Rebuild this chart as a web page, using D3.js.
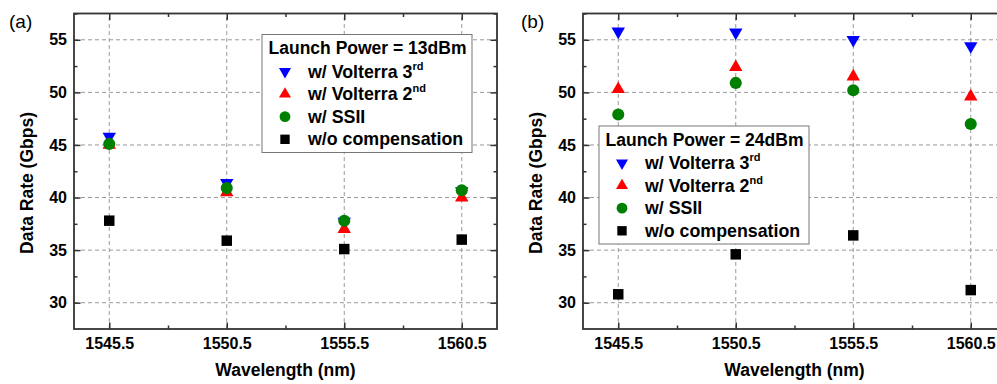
<!DOCTYPE html>
<html>
<head>
<meta charset="utf-8">
<style>
  body { margin: 0; background: #fff; }
  svg { display: block; font-family: "Liberation Sans", Arial, sans-serif; }
  .tick text { font-weight: bold; font-size: 16px; fill: #000; }
</style>
</head>
<body>
<svg width="997" height="384"></svg>

<script src="https://cdn.jsdelivr.net/npm/d3@7/dist/d3.min.js"></script>
<script>
// wavelengths (nm) on the x axis
const wavelengths = [1545.5, 1550.5, 1555.5, 1560.5];
const xMinor = [1548, 1553, 1558];
const yTicks = [30, 35, 40, 45, 50, 55];
const yMinor = [32.5, 37.5, 42.5, 47.5, 52.5, 57.5];

// panel (a): launch power 13 dBm
const a_volterra3 = [45.8, 41.4, 37.7, 40.6];
const a_volterra2 = [45.0, 40.5, 37.0, 40.0];
const a_ssii      = [45.1, 40.9, 37.8, 40.7];
const a_nocomp    = [37.8, 35.9, 35.1, 36.0];

// panel (b): launch power 24 dBm
const b_volterra3 = [55.8, 55.7, 55.0, 54.4];
const b_volterra2 = [50.3, 52.4, 51.5, 49.6];
const b_ssii      = [47.9, 50.9, 50.2, 47.0];
const b_nocomp    = [30.8, 34.6, 36.4, 31.2];

const seriesNames = ["w/ Volterra 3", "w/ Volterra 2", "w/ SSII", "w/o compensation"];
const seriesSup = ["rd", "nd", "", ""];

const svg = d3.select("svg");

// marker styles: down triangle, up triangle, circle, square
const markers = [
  { type: d3.symbolTriangle, size: 78, rot: 180, color: "#0000ff" },
  { type: d3.symbolTriangle, size: 78, rot: 0, color: "#ff0000" },
  { type: d3.symbolCircle, size: 115, rot: 0, color: "#008000" },
  { type: d3.symbolSquare, size: 110, rot: 0, color: "#000000" }
];

function drawPanel(opt) {
  const x = d3.scaleLinear().domain([1544, 1562]).range([opt.left, opt.left + 423]);
  const y = d3.scaleLinear().domain([27.5, 57.5]).range([329, 13.5]);
  const g = svg.append("g");

  // dashed grid at major ticks
  g.append("g").selectAll("line").data(yTicks).join("line")
    .attr("x1", x.range()[0]).attr("x2", x.range()[1])
    .attr("y1", d => y(d)).attr("y2", d => y(d))
    .attr("stroke", "#999").attr("stroke-dasharray", "4,3");
  g.append("g").selectAll("line").data(wavelengths).join("line")
    .attr("y1", y.range()[0]).attr("y2", y.range()[1])
    .attr("x1", d => x(d)).attr("x2", d => x(d))
    .attr("stroke", "#999").attr("stroke-dasharray", "4,3");

  // axes with inward ticks on all four sides
  const bottom = y.range()[0], top = y.range()[1];
  const leftX = x.range()[0], rightX = x.range()[1];

  g.append("g").attr("transform", `translate(0,${bottom})`)
    .call(d3.axisBottom(x).tickValues(wavelengths).tickFormat(d3.format(".1f"))
      .tickSize(-6.5).tickSizeOuter(0).tickPadding(9));
  g.append("g").attr("transform", `translate(0,${bottom})`)
    .call(d3.axisBottom(x).tickValues(xMinor).tickFormat("").tickSize(-3.5).tickSizeOuter(0));
  g.append("g").attr("transform", `translate(0,${top})`)
    .call(d3.axisTop(x).tickValues(wavelengths).tickFormat("").tickSize(-6.5).tickSizeOuter(0));
  g.append("g").attr("transform", `translate(0,${top})`)
    .call(d3.axisTop(x).tickValues(xMinor).tickFormat("").tickSize(-3.5).tickSizeOuter(0));

  g.append("g").attr("transform", `translate(${leftX},0)`)
    .call(d3.axisLeft(y).tickValues(yTicks).tickFormat(d3.format("d"))
      .tickSize(-6.5).tickSizeOuter(0).tickPadding(7));
  g.append("g").attr("transform", `translate(${leftX},0)`)
    .call(d3.axisLeft(y).tickValues(yMinor).tickFormat("").tickSize(-3.5).tickSizeOuter(0));
  g.append("g").attr("transform", `translate(${rightX},0)`)
    .call(d3.axisRight(y).tickValues(yTicks).tickFormat("").tickSize(-6.5).tickSizeOuter(0));
  g.append("g").attr("transform", `translate(${rightX},0)`)
    .call(d3.axisRight(y).tickValues(yMinor).tickFormat("").tickSize(-3.5).tickSizeOuter(0));

  g.selectAll(".domain").remove();
  g.selectAll(".tick line").attr("stroke", "#333").attr("stroke-width", 1.5);

  // frame
  g.append("rect")
    .attr("x", leftX).attr("y", top)
    .attr("width", rightX - leftX).attr("height", bottom - top)
    .attr("fill", "none").attr("stroke", "#333").attr("stroke-width", 1.8);

  // data points
  opt.series.forEach((vals, i) => {
    const m = markers[i];
    g.append("g").selectAll("path").data(vals).join("path")
      .attr("d", d3.symbol().type(m.type).size(m.size))
      .attr("transform", (d, j) => `translate(${x(wavelengths[j])},${y(d)}) rotate(${m.rot})`)
      .attr("fill", m.color);
  });

  // axis titles
  g.append("text")
    .attr("x", (leftX + rightX) / 2).attr("y", 376)
    .attr("text-anchor", "middle")
    .attr("font-weight", "bold").attr("font-size", 17.5)
    .text("Wavelength (nm)");
  g.append("text")
    .attr("transform", `translate(${leftX - 41},183) rotate(-90)`)
    .attr("text-anchor", "middle")
    .attr("font-weight", "bold").attr("font-size", 17.5)
    .text("Data Rate (Gbps)");

  // panel label
  g.append("text")
    .attr("x", opt.labelX).attr("y", 28)
    .attr("font-size", 19)
    .text(opt.label);

  // legend
  const lg = g.append("g").attr("transform", `translate(${opt.legend[0]},${opt.legend[1]})`);
  lg.append("rect")
    .attr("width", 210).attr("height", 118)
    .attr("fill", "#fff").attr("stroke", "#777").attr("stroke-width", 1);
  lg.append("text")
    .attr("x", 105.5).attr("y", 19.5)
    .attr("text-anchor", "middle")
    .attr("font-weight", "bold").attr("font-size", 17.5)
    .text(opt.title);
  seriesNames.forEach((name, i) => {
    const m = markers[i];
    const ry = 43 + i * 22.6;
    lg.append("path")
      .attr("d", d3.symbol().type(m.type).size(m.size * 0.8))
      .attr("transform", `translate(23,${ry - 6}) rotate(${m.rot})`)
      .attr("fill", m.color);
    const t = lg.append("text")
      .attr("x", 46).attr("y", ry)
      .attr("font-weight", "bold").attr("font-size", 17.8);
    t.append("tspan").text(name);
    if (seriesSup[i]) {
      t.append("tspan").attr("dy", -8).attr("font-size", 11).text(seriesSup[i]);
    }
  });
}

drawPanel({
  left: 74, label: "(a)", labelX: 9,
  title: "Launch Power = 13dBm", legend: [262, 34.5],
  series: [a_volterra3, a_volterra2, a_ssii, a_nocomp]
});

drawPanel({
  left: 583, label: "(b)", labelX: 521,
  title: "Launch Power = 24dBm", legend: [599, 126],
  series: [b_volterra3, b_volterra2, b_ssii, b_nocomp]
});
</script>
</body>
</html>
